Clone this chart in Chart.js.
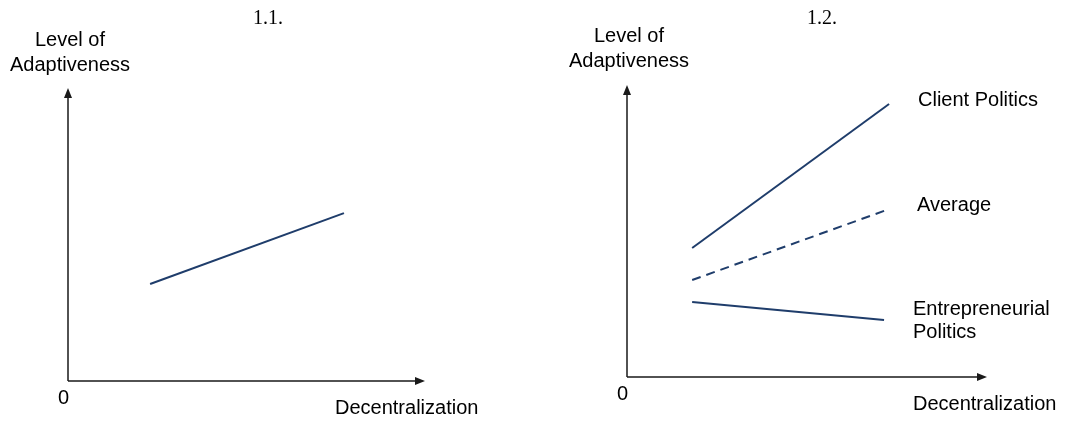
<!DOCTYPE html>
<html>
<head>
<meta charset="utf-8">
<script src="https://cdn.jsdelivr.net/npm/chart.js@4.4.1/dist/chart.umd.min.js"></script>
<style>
  body { margin: 0; background: #fff; }
  #wrap { position: relative; width: 1074px; height: 423px; }
  canvas { position: absolute; top: 0; }
</style>
</head>
<body>
<div id="wrap">
  <canvas id="c1" width="537" height="423" style="left:0"></canvas>
  <canvas id="c2" width="537" height="423" style="left:537px"></canvas>
</div>
<script>
// panel titles and axis texts
const panelTitles = ['1.1.', '1.2.'];
const yAxisLabel = ['Level of', 'Adaptiveness'];
const xAxisLabel = 'Decentralization';
const originLabel = '0';

// panel 1.1 : one line
const p1X = [2.3, 7.73];
const p1Y = [3.31, 5.73];

// panel 1.2 : three lines
const clientX = [1.81, 7.28];
const clientY = [4.42, 9.35];
const averageX = [1.81, 7.28];
const averageY = [3.32, 5.75];
const entreX = [1.81, 7.14];
const entreY = [2.57, 1.95];
const seriesLabels = [['Client Politics'], ['Average'], ['Entrepreneurial', 'Politics']];

const lineColor = '#1f3d6b';
const sans = '"Liberation Sans", Arial, sans-serif';
const serif = '"Liberation Serif", "Times New Roman", serif';

function pts(xs, ys) {
  return xs.map((x, i) => ({ x: x, y: ys[i] }));
}

function arrow(ctx, x, y, dir) {
  ctx.beginPath();
  if (dir === 'up') {
    ctx.moveTo(x, y);
    ctx.lineTo(x - 4, y + 10);
    ctx.lineTo(x + 4, y + 10);
  } else {
    ctx.moveTo(x, y);
    ctx.lineTo(x - 10, y - 4);
    ctx.lineTo(x - 10, y + 4);
  }
  ctx.closePath();
  ctx.fill();
}

// draws axes, arrows and texts; opts holds per panel offsets
function decorPlugin(opts) {
  return {
    id: 'decor',
    afterDraw(chart) {
      const ctx = chart.ctx;
      const xs = chart.scales.x, ys = chart.scales.y;
      const x0 = xs.getPixelForValue(0), y0 = ys.getPixelForValue(0);
      const xEnd = xs.getPixelForValue(10), yEnd = ys.getPixelForValue(10);
      ctx.save();
      ctx.strokeStyle = '#1a1a1a';
      ctx.fillStyle = '#1a1a1a';
      ctx.lineWidth = 1.5;
      ctx.beginPath();
      ctx.moveTo(x0, y0);
      ctx.lineTo(x0, yEnd + 6);
      ctx.moveTo(x0, y0);
      ctx.lineTo(xEnd - 6, y0);
      ctx.stroke();
      arrow(ctx, x0, yEnd, 'up');
      arrow(ctx, xEnd, y0, 'right');

      ctx.fillStyle = '#000';
      ctx.textBaseline = 'middle';
      ctx.textAlign = 'center';
      ctx.font = '20px ' + serif;
      ctx.fillText(opts.title, opts.titleX, 19);

      ctx.font = '20px ' + sans;
      ctx.fillText(yAxisLabel[0], x0 + 2, opts.yLab);
      ctx.fillText(yAxisLabel[1], x0 + 2, opts.yLab + 25);

      ctx.textAlign = 'left';
      ctx.fillText(originLabel, x0 - 10, y0 + 17);
      ctx.fillText(xAxisLabel, opts.xLabX, y0 + 27);

      if (opts.series) {
        opts.series.forEach((s) => {
          s.lines.forEach((t, i) => ctx.fillText(t, s.x, s.y + i * 23));
        });
      }
      ctx.restore();
    }
  };
}

function makeChart(id, datasets, padding, opts) {
  return new Chart(document.getElementById(id), {
    type: 'line',
    data: { datasets: datasets },
    options: {
      responsive: false,
      animation: false,
      layout: { padding: padding },
      plugins: { legend: { display: false }, tooltip: { enabled: false }, title: { display: false } },
      scales: {
        x: { type: 'linear', min: 0, max: 10, display: false },
        y: { type: 'linear', min: 0, max: 10, display: false }
      },
      elements: { point: { radius: 0 }, line: { borderWidth: 2, tension: 0 } }
    },
    plugins: [decorPlugin(opts)]
  });
}

makeChart('c1', [
  { data: pts(p1X, p1Y), borderColor: lineColor }
], { left: 68, right: 112, top: 88, bottom: 42 }, {
  title: panelTitles[0], titleX: 268, yLab: 40, xLabX: 335
});

makeChart('c2', [
  { data: pts(clientX, clientY), borderColor: lineColor },
  { data: pts(averageX, averageY), borderColor: lineColor, borderDash: [9, 6] },
  { data: pts(entreX, entreY), borderColor: lineColor }
], { left: 90, right: 87, top: 85, bottom: 46 }, {
  title: panelTitles[1], titleX: 285, yLab: 36, xLabX: 376,
  series: [
    { lines: seriesLabels[0], x: 381, y: 100 },
    { lines: seriesLabels[1], x: 380, y: 205 },
    { lines: seriesLabels[2], x: 376, y: 309 }
  ]
});
</script>
</body>
</html>
